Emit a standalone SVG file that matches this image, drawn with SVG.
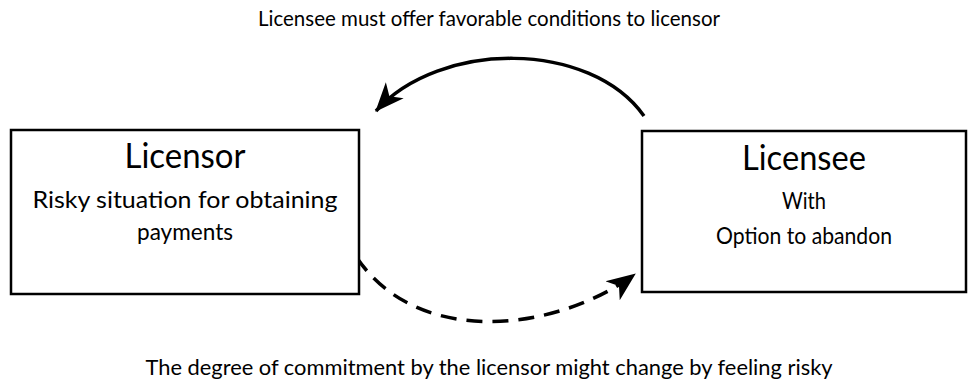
<svg xmlns="http://www.w3.org/2000/svg" width="977" height="385" viewBox="0 0 977 385">
<style>
text{font-family:Lato,"Open Sans","Liberation Sans",sans-serif;fill:#000;text-anchor:middle}
.t{font-size:35px}
.s{font-size:23px}
.c{font-size:21px}
.box{fill:#fff;stroke:#000;stroke-width:2.5}
.conn{fill:none;stroke:#000;stroke-width:3.5}
</style>
<defs>
<marker id="ah" viewBox="0 -13 30 26" refX="28" refY="0" markerWidth="30" markerHeight="26" markerUnits="userSpaceOnUse" orient="auto">
<path d="M0,-12 L29,0 L0,12 L8,0 Z" fill="#000"/>
</marker>
</defs>
<g id="connectors">
<path class="conn" d="M644,116 C590,40 440,40 376,111" marker-end="url(#ah)"/>
<path class="conn" d="M357,258 C420,350 560,330 635,274" stroke-dasharray="16,10" marker-end="url(#ah)"/>
</g>
<g id="licensor">
<rect class="box" x="11" y="130" width="348" height="164"/>
<text class="t" x="185" y="168" textLength="121" lengthAdjust="spacingAndGlyphs">Licensor</text>
<text class="s" x="185" y="208" textLength="305" lengthAdjust="spacingAndGlyphs">Risky situation for obtaining</text>
<text class="s" x="185" y="240" textLength="96" lengthAdjust="spacingAndGlyphs">payments</text>
</g>
<g id="licensee">
<rect class="box" x="642" y="131" width="324" height="161"/>
<text class="t" x="804" y="170" textLength="124" lengthAdjust="spacingAndGlyphs">Licensee</text>
<text class="s" x="804" y="209" textLength="44" lengthAdjust="spacingAndGlyphs">With</text>
<text class="s" x="804" y="244" textLength="176" lengthAdjust="spacingAndGlyphs">Option to abandon</text>
</g>
<g id="labels">
<text class="c" x="489" y="26" textLength="462" lengthAdjust="spacingAndGlyphs">Licensee must offer favorable conditions to licensor</text>
<text class="c" x="489" y="375" textLength="687" lengthAdjust="spacingAndGlyphs">The degree of commitment by the licensor might change by feeling risky</text>
</g>
</svg>
